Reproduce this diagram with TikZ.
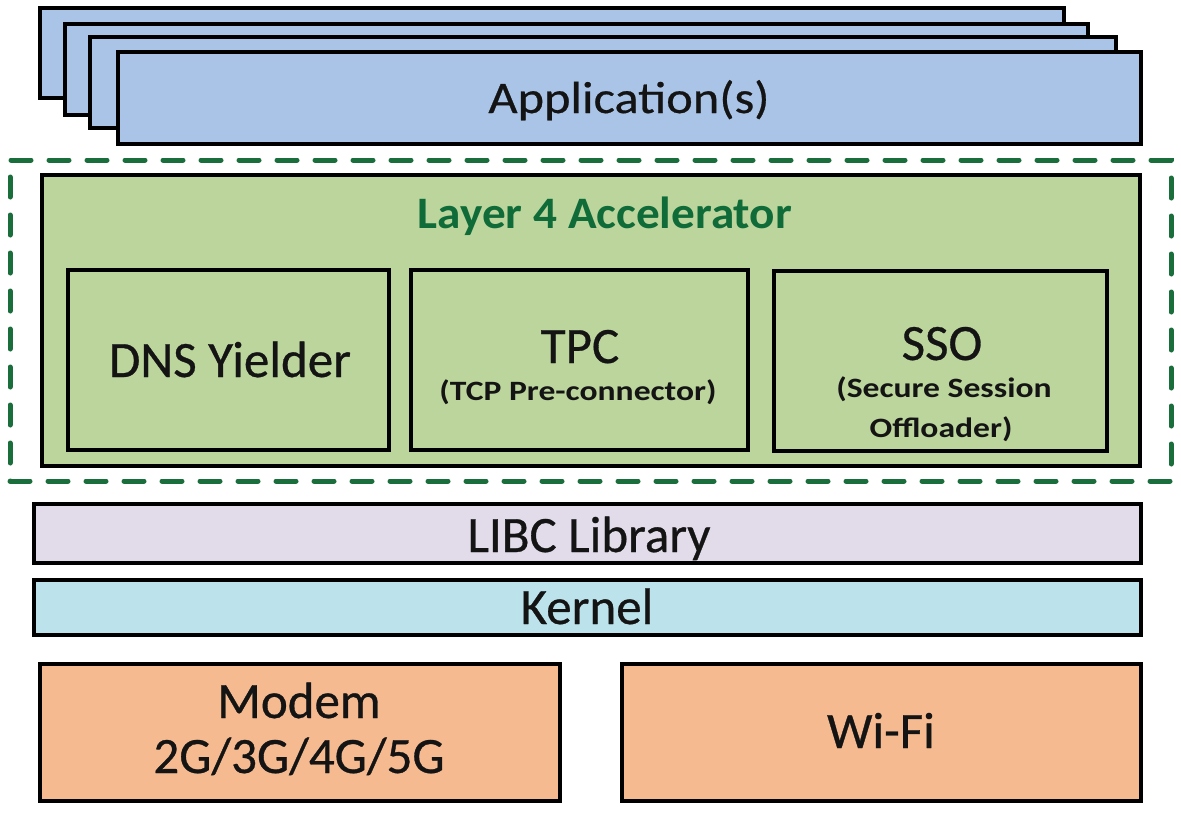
\documentclass[tikz,border=0pt]{standalone}
\usepackage{fontspec}
\setmainfont{Carlito}[FakeBold=0.6]
\newfontfamily\appfont{Carlito}[FakeStretch=1.12,FakeBold=0.6]
\newfontfamily\ttlfont{Carlito}[FakeStretch=1.05]
\newfontfamily\subfont{Carlito}[FakeStretch=1.2]
\definecolor{appblue}{HTML}{A9C4E6}
\definecolor{applight}{HTML}{C9DDF3}
\definecolor{accgreen}{HTML}{BCD59C}
\definecolor{acclight}{HTML}{D6E8BC}
\definecolor{dgreen}{HTML}{1A6E3C}
\definecolor{ttlgreen}{HTML}{0F6B38}
\definecolor{libc}{HTML}{E2DBEA}
\definecolor{kern}{HTML}{BCE3EB}
\definecolor{orng}{HTML}{F5BA90}
\definecolor{txt}{HTML}{141414}
\begin{document}
\begin{tikzpicture}[x=1pt,y=-1pt,
  blk/.style={draw=black, line width=4pt, inner sep=0pt, outer sep=0pt, anchor=north west, rectangle},
  lbl/.style={anchor=base, inner sep=0pt, text=txt, font=\fontsize{51}{60}\selectfont},
  applbl/.style={anchor=base, inner sep=0pt, text=txt, font=\appfont\fontsize{45}{54}\selectfont},
  ttl/.style={anchor=base, inner sep=0pt, text=ttlgreen, font=\ttlfont\bfseries\fontsize{45}{54}\selectfont},
  sub/.style={anchor=base, inner sep=0pt, text=txt, font=\subfont\bfseries\fontsize{28}{34}\selectfont},
  frame/.style={draw=dgreen, line width=5pt, dash pattern=on 20pt off 18pt, line cap=round, inner sep=0pt, outer sep=0pt, anchor=north west, rectangle}
]
\fill[white] (0,0) rectangle (1181,812);
\useasboundingbox (0,0) rectangle (1181,812);

% Application stack
\node[blk, fill=appblue, minimum width=1024pt, minimum height=90pt] (app1) at (40,8) {};
\node[blk, fill=appblue, minimum width=1023pt, minimum height=91pt] (app2) at (65,24) {};
\node[blk, fill=appblue, minimum width=1026pt, minimum height=91pt] (app3) at (90,37) {};
\node[blk, fill=appblue, minimum width=1023pt, minimum height=92pt] (app4) at (118,52) {};
\node[applbl] (appt) at (629,113) {Application(s)};

% Layer 4 accelerator
\node[frame, minimum width=1161pt, minimum height=321pt] (accframe) at (10,160) {};
\node[blk, fill=accgreen, minimum width=1098pt, minimum height=291pt] (acc) at (42,175) {};
\node[ttl] (acct) at (605,228) {Layer 4 Accelerator};

\node[blk, fill=accgreen, minimum width=321pt, minimum height=180pt] (dns) at (68,270) {};
\node[lbl] (dnst) at (230,377) {DNS Yielder};

\node[blk, fill=accgreen, minimum width=337pt, minimum height=180pt] (tpc) at (411,270) {};
\node[lbl] (tpct) at (580,363) {TPC};
\node[sub] (tpcs) at (578,400) {(TCP Pre-connector)};

\node[blk, fill=accgreen, minimum width=333pt, minimum height=180pt] (sso) at (774,271) {};
\node[lbl] (ssot) at (942,360) {SSO};
\node[sub] (ssos1) at (944,397) {(Secure Session};
\node[sub] (ssos2) at (941,437) {Offloader)};

% LIBC and kernel
\node[blk, fill=libc, minimum width=1107pt, minimum height=59pt] (libcbox) at (34,504) {};
\node[lbl] (libct) at (589,552) {LIBC Library};
\node[blk, fill=kern, minimum width=1107pt, minimum height=55pt] (kernbox) at (34,580) {};
\node[lbl] (kernt) at (587,624) {Kernel};

% Modem and Wi-Fi
\node[blk, fill=orng, minimum width=520pt, minimum height=137pt] (modem) at (40,664) {};
\node[lbl] (modemt1) at (299,718) {Modem};
\node[lbl] (modemt2) at (299,773) {2G/3G/4G/5G};
\node[blk, fill=orng, minimum width=519pt, minimum height=137pt] (wifi) at (622,664) {};
\node[lbl] (wifit) at (881,748) {Wi-Fi};
\end{tikzpicture}
\end{document}
